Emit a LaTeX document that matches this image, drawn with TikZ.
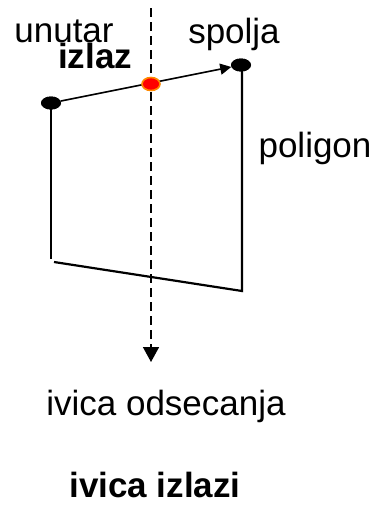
\documentclass[tikz,border=0pt]{standalone}
\usepackage{fontspec}
\setmainfont{Liberation Sans}
\usetikzlibrary{arrows.meta,shapes.geometric}
\definecolor{cutred}{HTML}{FF0000}
\definecolor{cutorange}{HTML}{FF8A00}

\begin{document}
\begin{tikzpicture}[x=1pt,y=-1pt,font=\fontsize{35}{40}\selectfont]
  \tikzstyle{vertex}=[ellipse, fill=black, inner sep=0pt, minimum width=20pt, minimum height=13pt]
  \tikzstyle{hit}=[ellipse, fill=cutred, draw=cutorange, line width=1.6pt, inner sep=0pt, minimum width=18pt, minimum height=13pt]
  \tikzstyle{side}=[line width=2.2pt]
  \tikzstyle{edgearrow}=[-{Triangle[length=11pt,width=11pt]}, line width=1.6pt]
  \tikzstyle{clipline}=[-{Triangle[length=15pt,width=16pt]}, line width=1.6pt, dash pattern=on 9pt off 5pt]
  \tikzstyle{word}=[anchor=base, inner sep=0pt]

  \path[use as bounding box] (0,0) rectangle (379,506);

  \coordinate (clipTop) at (151,8);
  \coordinate (clipBot) at (151,362);
  \coordinate (leftLow) at (51,259);
  \coordinate (bottomL) at (54,262);
  \coordinate (bottomR) at (242,291);
  \coordinate (rightTop) at (242,65);

  \draw[clipline] (clipTop) -- (clipBot);

  \node[vertex] (inside) at (51,103) {};
  \node[vertex] (outside) at (241,65) {};

  \draw[side] (inside.center) -- (leftLow);
  \draw[side] (bottomL) -- (bottomR) -- (rightTop);
  \draw[edgearrow] (inside) -- (outside);
  \node[vertex] at (outside) {};
  \node[vertex] at (inside) {};
  \node[hit] (exitpt) at (151,84) {};

  \node[word] (lblin) at (64,42) {unutar};
  \node[word, font=\fontsize{35}{40}\selectfont\bfseries] (lblexit) at (95,68) {izlaz};
  \node[word] (lblout) at (234,43) {spolja};
  \node[word] (lblpoly) at (315,157) {poligon};
  \node[word] (lblclip) at (166,415) {ivica odsecanja};
  \node[word, font=\fontsize{35}{40}\selectfont\bfseries] (lbltitle) at (155,497) {ivica izlazi};
\end{tikzpicture}
\end{document}
